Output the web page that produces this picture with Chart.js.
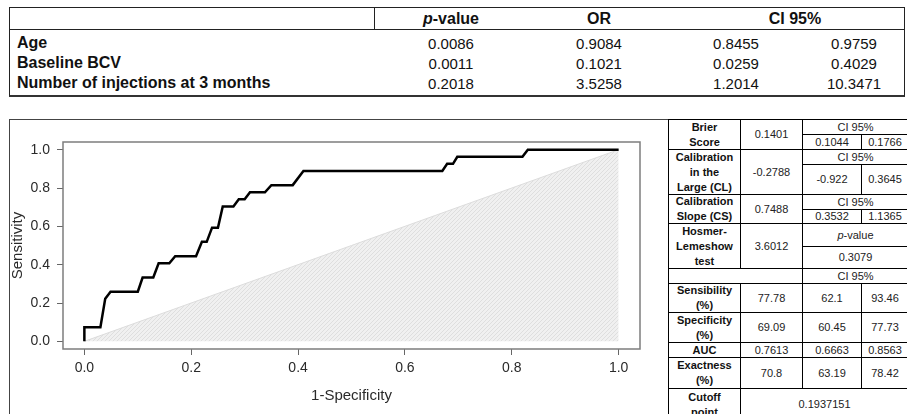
<!DOCTYPE html>
<html>
<head>
<meta charset="utf-8">
<script src="https://cdn.jsdelivr.net/npm/chart.js@4.4.1/dist/chart.umd.min.js"></script>
<style>
  body { margin: 0; width: 907px; height: 414px; background: #fff; position: relative; overflow: hidden;
         font-family: "Liberation Sans", Arial, sans-serif; color: #111; }
  .abs { position: absolute; }
  #topTable { left: 9px; top: 7px; width: 896px; height: 90px; border: 1px solid #222; border-bottom: 2px solid #333; box-sizing: border-box; }
  .hline { position: absolute; background: #222; height: 1px; }
  .vline { position: absolute; background: #222; width: 1px; }
  .cell { position: absolute; white-space: nowrap; text-align: center; transform: translate(-50%, -50%); }
  .lab { position: absolute; white-space: nowrap; transform: translateY(-50%); font-weight: bold; font-size: 16px; }
  #panel { left: 9px; top: 119px; width: 660px; height: 300px; border: 1.5px solid #444; border-right: none; box-sizing: border-box; }
  #roc { position: absolute; left: 10px; top: 120px; }
  #stats { position: absolute; left: 668px; top: 119px; display: grid; background: #000; padding: 1px; gap: 1px;
           grid-template-columns: 71px 61px 58px 46px;
           grid-template-rows: 14px 14px 14px 29px 14px 13px 22px 21px 14px 28px 29px 14px 30px 31px;
           font-size: 11px; line-height: 15px; color: #222; }
  #stats div { background: #fff; display: flex; align-items: center; justify-content: center; text-align: center; overflow: visible; }
  #stats .b { font-weight: bold; color: #111; }
</style>
</head>
<body>
<div id="topTable" class="abs"></div>
<div id="panel" class="abs"></div>
<canvas id="roc" width="657" height="294"></canvas>
<div id="stats">
  <div class="b" style="grid-row: 1 / 3; grid-column: 1;">Brier<br>Score</div>
  <div style="grid-row: 1 / 3; grid-column: 2;">0.1401</div>
  <div style="grid-row: 1; grid-column: 3 / 5;">CI 95%</div>
  <div style="grid-row: 2; grid-column: 3;">0.1044</div>
  <div style="grid-row: 2; grid-column: 4;">0.1766</div>

  <div class="b" style="grid-row: 3 / 5; grid-column: 1;">Calibration<br>in the<br>Large (CL)</div>
  <div style="grid-row: 3 / 5; grid-column: 2;">-0.2788</div>
  <div style="grid-row: 3; grid-column: 3 / 5;">CI 95%</div>
  <div style="grid-row: 4; grid-column: 3;">-0.922</div>
  <div style="grid-row: 4; grid-column: 4;">0.3645</div>

  <div class="b" style="grid-row: 5 / 7; grid-column: 1;">Calibration<br>Slope (CS)</div>
  <div style="grid-row: 5 / 7; grid-column: 2;">0.7488</div>
  <div style="grid-row: 5; grid-column: 3 / 5;">CI 95%</div>
  <div style="grid-row: 6; grid-column: 3;">0.3532</div>
  <div style="grid-row: 6; grid-column: 4;">1.1365</div>

  <div class="b" style="grid-row: 7 / 9; grid-column: 1;">Hosmer-<br>Lemeshow<br>test</div>
  <div style="grid-row: 7 / 9; grid-column: 2;">3.6012</div>
  <div style="grid-row: 7; grid-column: 3 / 5;"><span><i>p</i>-value</span></div>
  <div style="grid-row: 8; grid-column: 3 / 5;">0.3079</div>

  <div style="grid-row: 9; grid-column: 1 / 3;"></div>
  <div style="grid-row: 9; grid-column: 3 / 5;">CI 95%</div>

  <div class="b" style="grid-row: 10; grid-column: 1;">Sensibility<br>(%)</div>
  <div style="grid-row: 10; grid-column: 2;">77.78</div>
  <div style="grid-row: 10; grid-column: 3;">62.1</div>
  <div style="grid-row: 10; grid-column: 4;">93.46</div>

  <div class="b" style="grid-row: 11; grid-column: 1;">Specificity<br>(%)</div>
  <div style="grid-row: 11; grid-column: 2;">69.09</div>
  <div style="grid-row: 11; grid-column: 3;">60.45</div>
  <div style="grid-row: 11; grid-column: 4;">77.73</div>

  <div class="b" style="grid-row: 12; grid-column: 1;">AUC</div>
  <div style="grid-row: 12; grid-column: 2;">0.7613</div>
  <div style="grid-row: 12; grid-column: 3;">0.6663</div>
  <div style="grid-row: 12; grid-column: 4;">0.8563</div>

  <div class="b" style="grid-row: 13; grid-column: 1;">Exactness<br>(%)</div>
  <div style="grid-row: 13; grid-column: 2;">70.8</div>
  <div style="grid-row: 13; grid-column: 3;">63.19</div>
  <div style="grid-row: 13; grid-column: 4;">78.42</div>

  <div class="b" style="grid-row: 14; grid-column: 1;">Cutoff<br>point</div>
  <div style="grid-row: 14; grid-column: 2 / 5;">0.1937151</div>
</div>

<script>
// logistic model table
const predictors = ['Age', 'Baseline BCV', 'Number of injections at 3 months'];
const pValues = ['0.0086', '0.0011', '0.2018'];
const oddsRatios = ['0.9084', '0.1021', '3.5258'];
const ciLow = ['0.8455', '0.0259', '1.2014'];
const ciHigh = ['0.9759', '0.4029', '10.3471'];

// ROC curve
const rocFpr = [0, 0, 0.030, 0.039, 0.049, 0.100, 0.109, 0.129, 0.139, 0.159, 0.170, 0.209,
                0.220, 0.229, 0.239, 0.250, 0.259, 0.279, 0.289, 0.300, 0.310, 0.338, 0.350,
                0.390, 0.410, 0.670, 0.679, 0.690, 0.698, 0.820, 0.830, 1.0];
const rocTpr = [0, 0.074, 0.074, 0.222, 0.259, 0.259, 0.333, 0.333, 0.407, 0.407, 0.444, 0.444,
                0.519, 0.519, 0.593, 0.593, 0.704, 0.704, 0.741, 0.741, 0.778, 0.778, 0.815,
                0.815, 0.889, 0.889, 0.926, 0.926, 0.963, 0.963, 1.0, 1.0];
const diagX = [0, 1];
const diagY = [0, 1];
const axisTicks = [0, 0.2, 0.4, 0.6, 0.8, 1.0];

// ---- top table ----
const tableBox = document.getElementById('topTable');
const colCenters = [441, 589, 726, 844];   // relative to table box (left 9)
const rowCenters = [34.5, 54.5, 74.5];

function addCell(parent, html, x, y, cls, css) {
    const d = document.createElement('div');
    d.className = cls;
    d.innerHTML = html;
    d.style.left = x + 'px';
    d.style.top = y + 'px';
    if (css) d.style.cssText += css;
    parent.appendChild(d);
}

const hl = document.createElement('div');
hl.className = 'hline';
hl.style.cssText = 'left:0;top:21px;width:100%;';
tableBox.appendChild(hl);
const vl = document.createElement('div');
vl.className = 'vline';
vl.style.cssText = 'left:364px;top:0;height:21px;';
tableBox.appendChild(vl);

addCell(tableBox, '<i>p</i>-value', colCenters[0], 11, 'cell', 'font-weight:bold;font-size:16px;');
addCell(tableBox, 'OR', colCenters[1], 11, 'cell', 'font-weight:bold;font-size:16px;');
addCell(tableBox, 'CI 95%', (colCenters[2] + colCenters[3]) / 2, 11, 'cell', 'font-weight:bold;font-size:16px;');

predictors.forEach((p, i) => {
    addCell(tableBox, p, 7, rowCenters[i], 'lab');
    addCell(tableBox, pValues[i], colCenters[0], rowCenters[i], 'cell', 'font-size:15px;');
    addCell(tableBox, oddsRatios[i], colCenters[1], rowCenters[i], 'cell', 'font-size:15px;');
    addCell(tableBox, ciLow[i], colCenters[2], rowCenters[i], 'cell', 'font-size:15px;');
    addCell(tableBox, ciHigh[i], colCenters[3], rowCenters[i], 'cell', 'font-size:15px;');
});

// ---- ROC chart ----
const canvas = document.getElementById('roc');
const ctx = canvas.getContext('2d');

function hatchPattern() {
    const c = document.createElement('canvas');
    c.width = 4; c.height = 4;
    const g = c.getContext('2d');
    g.fillStyle = '#f0f0f0';
    g.fillRect(0, 0, 4, 4);
    g.strokeStyle = '#dedede';
    g.lineWidth = 1;
    g.beginPath();
    g.moveTo(-1, 5); g.lineTo(5, -1);
    g.stroke();
    return ctx.createPattern(c, 'repeat');
}

const plotBox = {
    id: 'plotBox',
    afterDraw(chart) {
        const a = chart.chartArea;
        const c = chart.ctx;
        c.save();
        c.strokeStyle = '#7d7d7d';
        c.lineWidth = 1.5;
        c.strokeRect(a.left, a.top, a.right - a.left, a.bottom - a.top);
        c.restore();
    }
};

const tickFont = { family: '"Liberation Sans", Arial, sans-serif', size: 14 };
const titleFont = { family: '"Liberation Sans", Arial, sans-serif', size: 15, lineHeight: 1 };

new Chart(ctx, {
    type: 'line',
    data: {
        datasets: [
            {
                data: rocFpr.map((x, i) => ({ x: x, y: rocTpr[i] })),
                borderColor: '#000',
                borderWidth: 2.5,
                pointRadius: 0,
                fill: false,
                tension: 0
            },
            {
                data: diagX.map((x, i) => ({ x: x, y: diagY[i] })),
                borderColor: '#dcdcdc',
                borderWidth: 1,
                pointRadius: 0,
                backgroundColor: hatchPattern(),
                fill: 'origin',
                tension: 0
            }
        ]
    },
    options: {
        responsive: false,
        animation: false,
        layout: { padding: { top: 22, right: 27, left: 0, bottom: 0 } },
        plugins: { legend: { display: false }, tooltip: { enabled: false } },
        scales: {
            x: {
                type: 'linear',
                min: -0.04,
                max: 1.04,
                afterBuildTicks: (s) => { s.ticks = axisTicks.map(v => ({ value: v })); },
                afterFit: (s) => { s.height = 65; },
                ticks: { color: '#2a2a2a', font: tickFont, padding: 5, callback: v => v.toFixed(1), maxRotation: 0 },
                grid: { display: true, drawOnChartArea: false, drawTicks: true, tickLength: 6, color: '#666' },
                border: { display: false },
                title: { display: true, text: '1-Specificity', color: '#2a2a2a', font: titleFont, padding: { top: 0, bottom: 11 } }
            },
            y: {
                type: 'linear',
                min: -0.04,
                max: 1.04,
                afterBuildTicks: (s) => { s.ticks = axisTicks.map(v => ({ value: v })); },
                afterFit: (s) => { s.width = 53; },
                ticks: { color: '#2a2a2a', font: tickFont, padding: 7, callback: v => v.toFixed(1) },
                grid: { display: true, drawOnChartArea: false, drawTicks: true, tickLength: 6, color: '#666' },
                border: { display: false },
                title: { display: true, text: 'Sensitivity', color: '#2a2a2a', font: titleFont, padding: { top: 0, bottom: 0 } }
            }
        }
    },
    plugins: [plotBox]
});
</script>
</body>
</html>
